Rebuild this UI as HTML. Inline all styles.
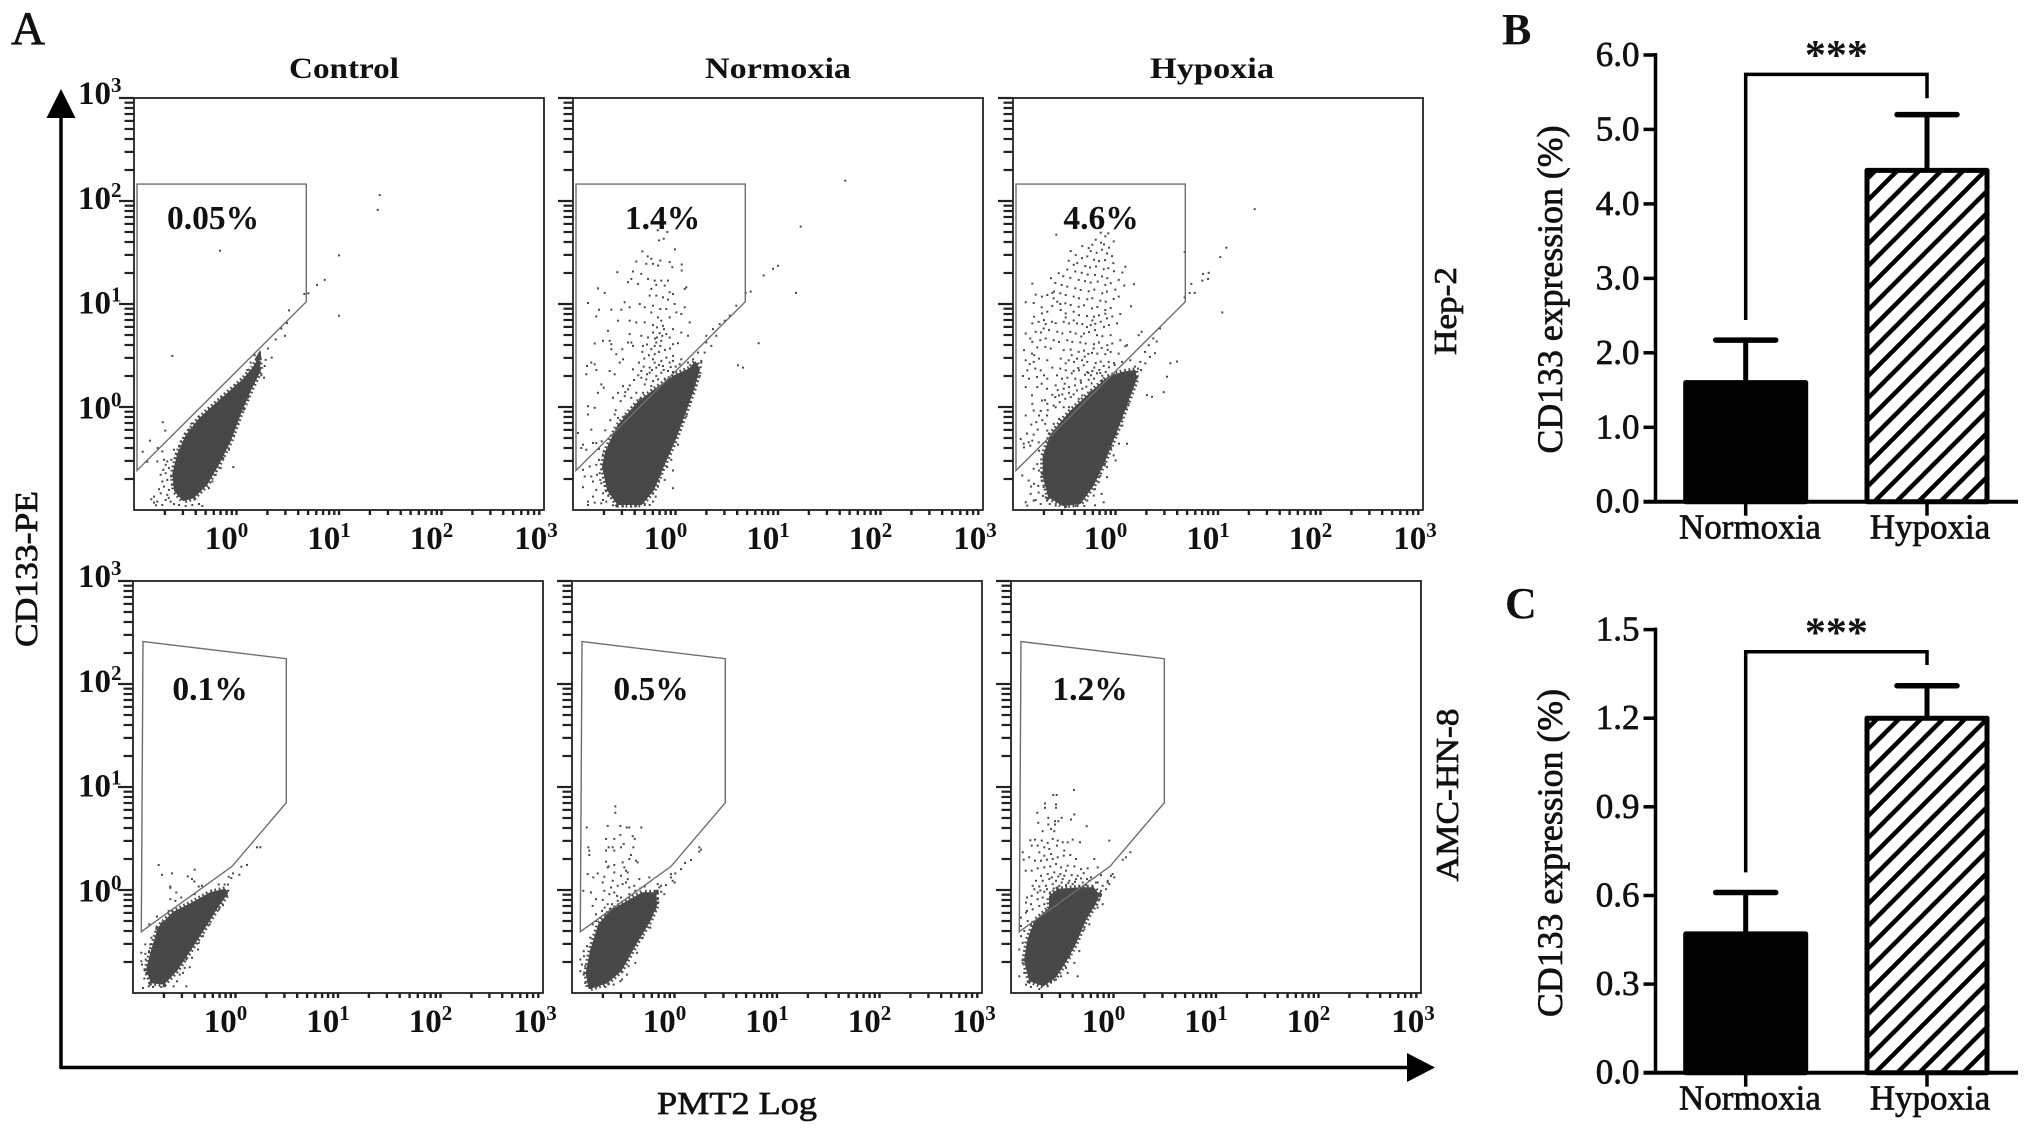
<!DOCTYPE html>
<html lang="en">
<head>
<meta charset="utf-8">
<title>CD133 flow cytometry and expression</title>
<style>
html,body{margin:0;padding:0;background:#fff;}
svg{display:block;}
text{font-family:"Liberation Serif",serif;font-weight:bold;fill:#111;}
.medium{font-weight:normal;stroke:#111;stroke-width:.7;}
</style>
</head>
<body>
<svg id="figure" xmlns="http://www.w3.org/2000/svg" width="2031" height="1135" viewBox="0 0 2031 1135">
<defs>
<pattern id="hatch" patternUnits="userSpaceOnUse" width="22" height="22">
<path d="M-5.5 5.5L5.5 -5.5M0 22L22 0M16.5 27.5L27.5 16.5" stroke="#000" stroke-width="4.5" fill="none"/>
</pattern>
</defs>
<rect x="0" y="0" width="2031" height="1135" fill="#fff"/>
<text class="medium" x="11" y="44" font-size="47">A</text>
<text x="1502" y="44" font-size="44">B</text>
<text x="1505" y="618" font-size="44">C</text>
<text x="344" y="78" font-size="30" text-anchor="middle" textLength="110" lengthAdjust="spacingAndGlyphs">Control</text>
<text x="778" y="78" font-size="30" text-anchor="middle" textLength="146" lengthAdjust="spacingAndGlyphs">Normoxia</text>
<text x="1212" y="78" font-size="30" text-anchor="middle" textLength="124" lengthAdjust="spacingAndGlyphs">Hypoxia</text>
<text class="medium" transform="translate(1456 311) rotate(-90)" font-size="32" text-anchor="middle" textLength="88" lengthAdjust="spacingAndGlyphs">Hep-2</text>
<text class="medium" transform="translate(1458 795) rotate(-90)" font-size="32" text-anchor="middle" textLength="173" lengthAdjust="spacingAndGlyphs">AMC-HN-8</text>
<text class="medium" transform="translate(37 569) rotate(-90)" font-size="32" text-anchor="middle" textLength="156" lengthAdjust="spacingAndGlyphs">CD133-PE</text>
<text class="medium" x="737" y="1114" font-size="32" text-anchor="middle" textLength="160" lengthAdjust="spacingAndGlyphs">PMT2 Log</text>
<line x1="61" y1="1069" x2="61" y2="116" stroke="#000" stroke-width="3.5"/>
<polygon points="61,89 46.5,118 75.5,118" fill="#000"/>
<line x1="60" y1="1067.5" x2="1410" y2="1067.5" stroke="#000" stroke-width="3.5"/>
<polygon points="1435,1067.5 1407,1053 1407,1082" fill="#000"/>
<g id="flow-layer"></g>
<g id="bars-layer"></g>
</svg>
<script>
/* Flow cytometry data: channel units, 0-1230 spans four decades (10^-1 to 10^3) */
const channelMax = 1230;
const decadeExponents = [0, 1, 2, 3];
const minorMultipliers = [1, 2, 3, 4, 5, 6, 7, 8, 9];
const gateHep2 = [[9,973],[517,973],[517,622],[9,118]];
const gateAmc = [[25,183],[297,378],[460,568],[460,998],[30,1049]];

const cloudControlHep2 = [[373,448],[358,423],[328,388],[288,353],[248,318],[198,273],[158,223],[133,168],[118,108],[123,58],[148,30],[178,38],[218,78],[253,138],[288,208],[318,288],[348,358],[378,418]];
const cloudNormoxiaHep2 = [[367,440],[350,420],[305,400],[255,365],[195,320],[135,250],[100,175],[90,130],[105,60],[135,18],[205,18],[240,60],[265,120],[305,210],[335,290],[360,360],[378,420]];
const cloudHypoxiaHep2 = [[365,415],[330,410],[285,395],[235,350],[175,295],[115,225],[92,160],[92,100],[108,40],[150,15],[200,20],[240,75],[275,150],[315,250],[345,330],[368,390]];
const cloudControlAmc = [[276,308],[232,298],[182,270],[122,240],[78,195],[58,130],[42,70],[56,32],[92,28],[130,68],[172,130],[217,200],[256,262],[282,298]];
const cloudNormoxiaAmc = [[250,298],[212,298],[162,270],[118,245],[82,205],[58,130],[44,60],[52,15],[105,32],[146,68],[192,150],[232,215],[252,262]];
const cloudHypoxiaAmc = [[262,293],[247,313],[212,313],[142,308],[117,288],[117,253],[72,213],[52,158],[42,98],[57,38],[97,23],[132,48],[162,93],[192,148],[222,218],[252,268]];

const eventsControlHep2 = [[737,940],[731,896],[615,760],[572,687],[549,672],[523,647],[511,645],[615,580],[465,596],[459,558],[442,542],[453,520],[425,509],[402,482],[413,455],[390,395],[258,774],[115,460],[86,262],[94,237],[48,207],[26,174],[71,185],[40,144],[298,128],[60,40],[70,25],[85,15],[95,30],[80,50],[100,45],[110,25],[120,18],[135,15],[155,12],[175,15],[195,18],[205,12],[75,62],[90,70],[105,60],[115,75],[85,85],[100,90],[112,100],[95,110],[88,120],[105,125],[118,130],[100,145],[112,150],[122,155],[90,150],[80,105],[130,165],[135,190],[150,215],[120,180],[140,205],[165,240],[85,175],[70,145],[95,135],[225,65],[235,85],[245,105],[260,125],[268,155],[285,180],[300,222],[312,258],[330,300],[342,336],[360,380],[382,402],[392,430],[395,448],[378,470],[362,462],[350,440],[340,418],[305,372],[262,336],[225,300],[195,278],[172,258],[60,22],[52,32],[66,14],[138,176],[104,36]];
const eventsNormoxiaHep2 = [[817,983],[683,846],[615,729],[600,720],[572,700],[533,652],[518,648],[669,648],[557,498],[495,432],[510,425],[490,610],[455,565],[440,555],[420,540],[400,500],[415,490],[395,470],[375,470],[360,450],[385,445],[345,440],[400,520],[430,520],[470,580],[254,835],[272,810],[258,805],[283,830],[306,778],[208,772],[224,757],[235,750],[190,742],[262,745],[220,735],[240,735],[255,730],[290,740],[326,733],[298,725],[326,715],[133,710],[180,712],[205,705],[225,690],[265,685],[285,685],[245,685],[175,690],[165,680],[195,675],[250,672],[275,670],[235,660],[340,665],[335,660],[290,650],[300,645],[230,640],[250,640],[270,635],[285,628],[75,662],[95,648],[45,618],[78,598],[115,598],[145,598],[155,620],[170,605],[200,615],[215,605],[240,610],[262,600],[280,600],[305,615],[335,605],[235,590],[255,575],[265,565],[290,575],[310,590],[325,585],[70,578],[135,565],[170,565],[190,560],[215,560],[240,552],[270,550],[300,540],[350,560],[240,530],[260,528],[280,525],[325,530],[205,520],[225,515],[250,500],[265,505],[262,490],[290,515],[105,535],[65,497],[90,505],[110,505],[115,495],[170,525],[165,500],[180,490],[175,500],[210,490],[235,480],[245,490],[300,495],[315,498],[345,520],[148,480],[115,480],[130,465],[150,450],[140,440],[245,465],[240,450],[245,440],[265,445],[280,455],[300,460],[325,450],[230,425],[250,425],[270,430],[290,440],[300,445],[320,435],[55,440],[42,430],[65,435],[70,418],[40,405],[110,415],[125,405],[180,420],[205,415],[230,410],[250,400],[265,410],[285,415],[300,412],[205,395],[220,390],[240,385],[255,390],[275,392],[215,375],[235,370],[255,365],[85,375],[92,365],[150,370],[165,360],[190,350],[210,350],[230,345],[75,350],[135,350],[120,335],[155,340],[175,335],[200,330],[45,310],[65,305],[45,285],[125,285],[135,275],[155,280],[15,230],[55,240],[30,195],[60,200],[70,200],[25,185],[40,180],[90,165],[30,120],[50,130],[70,135],[35,100],[55,100],[80,110],[60,85],[85,80],[30,68],[70,60],[90,50],[60,40],[90,30],[45,25],[65,22],[85,20],[100,25],[45,15],[240,25],[230,15],[270,120],[300,118],[300,65],[255,70],[275,90],[262,105],[290,170],[320,240],[340,280],[360,350],[385,440],[375,420],[365,395],[380,400],[95,140],[100,100],[78,150],[240,50],[215,15],[190,12],[270,140],[285,190],[310,225],[335,300],[222,405],[237,418],[258,433],[272,418],[293,427],[308,428],[212,428],[196,402],[183,388],[170,372],[157,352],[143,325],[128,298],[112,268],[97,238],[86,205],[78,182],[198,440],[214,452],[228,462],[258,472],[276,478],[291,482],[208,472],[222,494],[252,515],[273,540],[252,545],[246,512],[268,520],[82,90],[72,105],[88,122],[95,72],[106,42],[120,14],[150,11],[175,10],[248,40],[257,88],[283,128],[295,150],[315,195],[328,262],[352,322],[370,372]];
const eventsHypoxiaHep2 = [[725,898],[640,783],[622,755],[587,708],[570,705],[585,690],[568,685],[628,590],[535,675],[515,635],[545,648],[530,648],[515,770],[130,822],[257,843],[263,828],[277,817],[286,826],[248,807],[264,798],[273,793],[302,802],[288,783],[238,792],[233,773],[227,782],[208,788],[251,768],[267,777],[282,766],[297,758],[188,761],[207,752],[223,757],[243,747],[258,743],[276,746],[301,737],[173,773],[167,744],[182,732],[193,737],[217,728],[231,724],[249,727],[272,719],[286,722],[303,713],[163,718],[187,712],[206,708],[224,703],[246,702],[267,697],[283,692],[337,726],[328,709],[151,698],[172,693],[197,687],[216,683],[233,679],[254,682],[277,672],[293,677],[317,687],[137,707],[114,692],[127,678],[146,672],[163,667],[187,662],[203,657],[227,653],[244,658],[268,647],[282,652],[307,658],[334,670],[363,674],[58,676],[123,652],[142,647],[158,642],[182,637],[198,632],[223,629],[238,632],[262,625],[278,622],[302,630],[68,643],[87,637],[103,642],[122,632],[133,622],[157,617],[173,612],[197,607],[213,611],[237,602],[253,606],[277,597],[293,603],[317,637],[354,608],[38,620],[62,618],[118,609],[143,597],[158,587],[182,592],[198,582],[222,579],[243,577],[258,581],[282,572],[298,578],[322,585],[63,577],[87,587],[103,592],[58,557],[77,562],[93,567],[117,562],[128,558],[152,562],[168,557],[192,557],[208,555],[233,552],[247,556],[273,547],[288,552],[312,557],[38,527],[52,512],[68,532],[92,542],[108,537],[133,532],[148,527],[172,532],[188,527],[213,527],[228,531],[252,522],[268,519],[293,522],[322,507],[377,522],[58,502],[82,507],[98,512],[122,507],[138,502],[163,507],[178,502],[202,500],[218,497],[243,495],[258,500],[283,492],[298,497],[342,492],[33,477],[57,467],[73,485],[97,487],[113,482],[152,477],[173,479],[197,472],[213,476],[237,469],[253,467],[277,465],[293,472],[317,467],[38,447],[62,442],[78,452],[103,447],[143,452],[167,447],[183,442],[207,447],[223,442],[248,439],[263,443],[287,442],[303,439],[327,442],[43,417],[67,422],[83,417],[142,422],[158,417],[182,415],[198,417],[223,412],[238,415],[262,409],[278,412],[302,407],[337,489],[48,392],[72,397],[93,402],[147,392],[163,395],[187,392],[203,387],[227,389],[243,392],[267,387],[283,382],[307,399],[38,367],[57,342],[73,367],[102,362],[128,372],[152,362],[168,367],[192,357],[208,362],[232,352],[248,357],[272,367],[58,317],[87,327],[103,317],[127,337],[138,342],[157,332],[173,337],[197,332],[208,342],[227,322],[38,282],[62,297],[78,282],[102,282],[128,307],[152,307],[168,307],[23,212],[47,202],[58,207],[77,202],[33,187],[52,192],[78,177],[97,257],[103,237],[122,257],[138,272],[162,282],[375,422],[396,472],[407,492],[421,512],[431,503],[382,442],[366,428],[397,438],[411,457],[426,468],[441,542],[386,532],[352,447],[28,103],[47,88],[62,123],[73,137],[87,108],[63,78],[92,68],[53,48],[77,52],[38,23],[62,28],[83,18],[102,28],[43,13],[257,83],[266,48],[282,98],[287,188],[302,163],[342,198],[328,252],[347,318],[242,43],[223,28],[272,23],[282,128],[258,118],[92,143],[98,38],[402,343],[417,338],[452,352],[462,398],[472,438],[492,443],[244,425],[259,418],[272,430],[288,426],[305,433],[212,432],[226,409],[196,424],[176,408],[155,377],[134,358],[118,344],[96,328],[83,296],[70,262],[55,255],[42,228],[32,198],[216,404],[234,402],[252,408],[268,401],[292,398],[186,372],[204,380],[220,368],[236,378],[148,345],[168,350],[182,345],[122,312],[140,322],[104,298],[88,268],[74,240],[62,225],[226,466],[242,482],[266,484],[284,478],[215,458],[192,452],[176,462],[158,438],[132,402],[118,425],[103,392],[86,377],[246,537],[263,562],[277,586],[238,566],[222,546],[205,518],[182,566],[158,575],[142,615],[118,648],[86,605],[98,555],[84,530],[64,462],[50,436],[30,400],[76,72],[86,88],[78,118],[90,42],[68,30],[54,70],[110,18],[128,13],[160,10],[188,12],[214,12],[246,62],[262,102],[276,138],[294,186],[310,225],[326,272],[340,306],[356,358],[372,395],[384,418],[246,14],[318,198],[308,148]];
const eventsControlAmc = [[77,382],[87,353],[117,357],[185,368],[164,348],[177,340],[184,333],[112,318],[112,314],[130,300],[112,280],[127,275],[145,285],[107,245],[72,228],[197,318],[207,320],[185,295],[287,347],[295,343],[300,357],[319,353],[325,377],[342,382],[372,435],[382,435],[257,324],[275,324],[285,324],[277,300],[282,290],[25,120],[37,117],[37,145],[52,145],[25,95],[27,85],[34,43],[30,15],[47,20],[67,30],[122,20],[160,20],[132,35],[170,77],[177,105],[197,150],[87,210],[49,205],[44,75],[55,165],[70,190],[250,280],[262,270],[230,205],[150,60],[110,48],[95,22],[85,18],[60,18],[40,60],[38,100],[48,125],[140,55],[155,75],[160,100],[195,130],[210,170],[235,228],[258,250],[270,262],[285,305]];
const eventsNormoxiaAmc = [[130,557],[130,538],[44,494],[107,499],[145,499],[164,494],[172,494],[208,494],[145,472],[182,468],[188,460],[102,460],[127,460],[155,445],[49,435],[52,425],[52,412],[110,435],[122,435],[102,425],[127,425],[147,435],[184,435],[177,412],[102,392],[172,400],[192,395],[197,390],[107,375],[110,378],[127,382],[152,390],[157,375],[162,365],[127,360],[47,355],[64,345],[77,357],[97,347],[147,350],[167,360],[92,330],[122,335],[167,340],[162,330],[202,340],[232,345],[117,315],[137,320],[152,325],[172,315],[187,320],[34,305],[57,300],[97,305],[112,295],[127,300],[147,285],[172,295],[72,280],[92,278],[107,265],[62,260],[137,275],[297,355],[310,357],[297,345],[302,335],[308,330],[327,370],[339,388],[357,397],[382,435],[387,428],[382,422],[257,325],[267,320],[282,322],[262,315],[277,295],[257,280],[250,250],[90,245],[100,235],[85,225],[72,215],[62,205],[25,100],[35,125],[45,140],[55,165],[25,65],[35,55],[40,30],[55,15],[75,20],[100,18],[125,25],[145,35],[165,55],[170,80],[190,90],[195,120],[212,165],[235,195],[30,85],[150,40],[40,80],[36,110],[48,40],[158,102],[172,118],[205,185],[222,205],[240,232],[258,268],[268,302],[190,305],[205,312],[218,318],[135,290],[120,265],[98,255],[72,235]];
const eventsHypoxiaAmc = [[189,606],[127,591],[137,591],[102,566],[135,563],[135,553],[102,553],[79,538],[190,533],[152,523],[142,513],[132,513],[112,523],[82,508],[112,503],[227,498],[132,503],[180,518],[120,490],[95,483],[130,483],[58,456],[72,458],[92,455],[110,448],[125,460],[140,455],[155,450],[170,450],[185,458],[207,450],[295,455],[62,440],[80,440],[100,435],[115,430],[138,440],[160,425],[120,415],[100,410],[85,420],[35,420],[38,398],[55,405],[72,395],[90,395],[108,398],[125,400],[140,405],[158,410],[178,412],[195,400],[250,400],[335,398],[345,405],[358,420],[80,372],[62,365],[44,365],[100,375],[118,378],[135,385],[150,375],[170,380],[190,378],[210,370],[230,372],[260,375],[90,350],[110,355],[130,360],[148,355],[165,365],[182,352],[200,350],[218,358],[240,345],[270,352],[300,350],[310,345],[75,335],[95,335],[115,340],[135,335],[155,340],[175,335],[195,340],[215,330],[235,335],[255,330],[290,335],[305,355],[65,320],[85,318],[105,320],[125,325],[145,320],[165,322],[185,325],[205,320],[225,322],[245,318],[275,320],[295,325],[285,310],[270,305],[260,330],[48,285],[62,290],[80,300],[100,302],[118,300],[45,270],[60,265],[80,280],[95,285],[48,245],[65,250],[85,260],[100,265],[30,225],[45,240],[30,200],[50,215],[60,205],[30,170],[40,185],[25,130],[35,150],[35,90],[40,60],[25,50],[45,25],[60,18],[85,12],[110,20],[120,35],[135,40],[150,50],[170,60],[190,90],[200,50],[165,75],[175,110],[205,125],[220,190],[235,205],[260,255],[265,280],[275,265],[290,330],[128,312],[152,330],[172,328],[192,332],[210,342],[228,340],[88,306],[108,310],[70,310],[122,345],[142,348],[160,350]];

/* Flow panel labels */
const gateLabels = ['0.05%','1.4%','4.6%','0.1%','0.5%','1.2%'];
const panelCondition = ['control-hep2','normoxia-hep2','hypoxia-hep2','control-amc','normoxia-amc','hypoxia-amc'];
const panelClouds = [cloudControlHep2,cloudNormoxiaHep2,cloudHypoxiaHep2,cloudControlAmc,cloudNormoxiaAmc,cloudHypoxiaAmc];
const panelEvents = [eventsControlHep2,eventsNormoxiaHep2,eventsHypoxiaHep2,eventsControlAmc,eventsNormoxiaAmc,eventsHypoxiaAmc];
const panelGates = [gateHep2,gateHep2,gateHep2,gateAmc,gateAmc,gateAmc];

/* Bar chart data */
const barCategories = ['Normoxia','Hypoxia'];
const bTickValues = [0,1,2,3,4,5,6];
const bMeans = [1.6,4.45];
const bUpper = [2.17,5.2];
const bBracket = [5.74,2.44,5.42];
const cTickValues = [0,0.3,0.6,0.9,1.2,1.5];
const cMeans = [0.47,1.2];
const cUpper = [0.61,1.31];
const cBracket = [1.425,0.678,1.38];

const NS = 'http://www.w3.org/2000/svg';
function mk(tag, attrs, parent) {
  const e = document.createElementNS(NS, tag);
  for (const k in attrs) e.setAttribute(k, attrs[k]);
  parent.appendChild(e);
  return e;
}
const flowLayer = document.getElementById('flow-layer');
const barsLayer = document.getElementById('bars-layer');
const PW = 410, PH = 412;
const colX = [[134,573,1013],[133,572,1011]];
const rowY = [98,581];
const pctOffset = [79,89.5,88,77,79,79];

panelCondition.forEach(function (name, idx) {
  const row = idx < 3 ? 0 : 1;
  const col = idx % 3;
  const L = colX[row][col], T = rowY[row];
  const sx = function (ch) { return L + ch / channelMax * PW; };
  const sy = function (ch) { return T + PH - ch / channelMax * PH; };
  const decadeCh = channelMax / 4;
  const g = mk('g', {}, flowLayer);
  
  
  const cloudPts = panelClouds[idx].map(function (p) { return sx(p[0]).toFixed(1) + ',' + sy(p[1]).toFixed(1); }).join(' ');

  const cloud = mk('polygon', {points: cloudPts, fill: '#474747', stroke: '#474747', 'stroke-width': 2, 'stroke-linejoin': 'round'}, g);
  
  

  const fringe = mk('polygon', {points: cloudPts, fill: 'none', stroke: '#4a4a4a', 'stroke-width': 7, 'stroke-dasharray': '1.7 2.6'}, g);
  
  

  panelEvents[idx].forEach(function (p) {
    const dot = mk('rect', {x: (sx(p[0]) - 1).toFixed(1), y: (sy(p[1]) - 1).toFixed(1), width: 2, height: 2, fill: '#4a4a4a'}, g);
    
    
  });

  const gate = mk('polygon', {points: panelGates[idx].map(function (p) { return sx(p[0]).toFixed(1) + ',' + sy(p[1]).toFixed(1); }).join(' '), fill: 'none', stroke: '#6e6e6e', 'stroke-width': 1.4}, g);
  
  

  const frame = mk('rect', {x: L, y: T, width: PW, height: PH, fill: 'none', stroke: '#222', 'stroke-width': 1.8}, g);
  
  

  [-1, 0, 1, 2].forEach(function (dec) {
    minorMultipliers.forEach(function (m) {
      const ch = (dec + 1 + Math.log10(m)) * decadeCh;
      const isMajor = m === 1;
      if (!(isMajor && dec === -1)) {
        const ty = mk('line', {x1: L - (isMajor ? 15 : 9.5), x2: L, y1: sy(ch).toFixed(1), y2: sy(ch).toFixed(1), stroke: '#222', 'stroke-width': 2.2}, g);
        
        
        const tx = mk('line', {x1: sx(ch).toFixed(1), x2: sx(ch).toFixed(1), y1: T + PH, y2: T + PH + 5, stroke: '#222', 'stroke-width': 2.4}, g);
        
        
      }
    });
  });
  const topTick = mk('line', {x1: L - 15, x2: L, y1: sy(channelMax), y2: sy(channelMax), stroke: '#222', 'stroke-width': 2.2}, g);
  
  

  decadeExponents.forEach(function (ex) {
    const ch = (ex + 1) * decadeCh;
    const lab = mk('text', {x: (sx(ch) - (ex === 3 ? 8 : 10)).toFixed(1), y: T + PH + 39, 'font-size': 33, 'text-anchor': 'middle'}, g);
    
    
    lab.appendChild(document.createTextNode('10'));
    const sup = mk('tspan', {dy: -12, 'font-size': 21}, lab);
    sup.textContent = String(ex);
    if (col === 0) {
      const ylab = mk('text', {x: 78, y: (sy(ch) + 6 + (3 - ex) * 1.8).toFixed(1), 'font-size': 33}, g);
      
      
      ylab.appendChild(document.createTextNode('10'));
      const ysup = mk('tspan', {dy: -12, 'font-size': 21}, ylab);
      ysup.textContent = String(ex);
    }
  });

  const pct = mk('text', {x: L + pctOffset[idx], y: row === 0 ? 229 : 700, 'font-size': 33.5, 'text-anchor': 'middle'}, g);
  
  
  pct.textContent = gateLabels[idx];
});

function drawBars(cfg) {
  const g = mk('g', {}, barsLayer);
  
  
  const ax = 1655.5, xEnd = 2018;
  const y = function (v) { return cfg.y0 - v / cfg.max * (cfg.y0 - cfg.yTop); };
  const cx = function (i) { return 1745.7 + i * 181.3; };
  const labelX = [1750, 1930];
  const halfBar = 60, capHalf = 30;

  cfg.means.forEach(function (m, i) {
    const bar = mk('rect', {x: cx(i) - halfBar, y: y(m).toFixed(1), width: halfBar * 2, height: (cfg.y0 - y(m)).toFixed(1), fill: i === 0 ? '#000' : 'url(#hatch)', stroke: '#000', 'stroke-width': 5, 'stroke-linejoin': 'round'}, g);
    
    
    const stem = mk('line', {x1: cx(i), x2: cx(i), y1: y(m).toFixed(1), y2: y(cfg.upper[i]).toFixed(1), stroke: '#000', 'stroke-width': 5}, g);
    
    
    const cap = mk('line', {x1: cx(i) - capHalf, x2: cx(i) + capHalf, y1: y(cfg.upper[i]).toFixed(1), y2: y(cfg.upper[i]).toFixed(1), stroke: '#000', 'stroke-width': 5.5, 'stroke-linecap': 'round'}, g);
    
    
    const tick = mk('line', {x1: cx(i), x2: cx(i), y1: cfg.y0, y2: cfg.y0 + 14, stroke: '#000', 'stroke-width': 3.5}, g);
    
    
    const lab = mk('text', {x: labelX[i], y: cfg.y0 + 37, 'font-size': 35, 'text-anchor': 'middle', class: 'medium'}, g);
    
    
    lab.textContent = barCategories[i];
  });

  const yAxis = mk('line', {x1: ax, x2: ax, y1: y(cfg.max) - 2, y2: cfg.y0, stroke: '#000', 'stroke-width': 3.5}, g);
  
  
  const xAxis = mk('line', {x1: ax - 12, x2: xEnd, y1: cfg.y0, y2: cfg.y0, stroke: '#000', 'stroke-width': 4}, g);
  
  

  cfg.ticks.forEach(function (t) {
    const tk = mk('line', {x1: ax - 12, x2: ax, y1: y(t).toFixed(1), y2: y(t).toFixed(1), stroke: '#000', 'stroke-width': 3.5}, g);
    
    
    const lb = mk('text', {x: ax - 16, y: (y(t) + 11).toFixed(1), 'font-size': 35, 'text-anchor': 'end', class: 'medium'}, g);
    
    
    lb.textContent = t.toFixed(1);
  });

  const br = mk('polyline', {points: [cx(0), y(cfg.bracket[1]).toFixed(1), cx(0), y(cfg.bracket[0]).toFixed(1), cx(1), y(cfg.bracket[0]).toFixed(1), cx(1), y(cfg.bracket[2]).toFixed(1)].join(' '), fill: 'none', stroke: '#000', 'stroke-width': 3.5}, g);
  
  
  const stars = mk('text', {x: (cx(0) + cx(1)) / 2, y: y(cfg.bracket[0]) - 5.5, 'font-size': 42, 'text-anchor': 'middle'}, g);
  
  
  stars.textContent = '***';

  const title = mk('text', {transform: 'translate(1562 ' + cfg.titleY + ') rotate(-90)', 'font-size': 36, 'text-anchor': 'middle', textLength: 328, lengthAdjust: 'spacingAndGlyphs', class: 'medium'}, g);
  
  
  title.textContent = 'CD133 expression (%)';
}

drawBars({name: 'bar-chart-b', y0: 501.7, yTop: 55, max: 6, ticks: bTickValues, means: bMeans, upper: bUpper, bracket: bBracket, titleY: 289.5});
drawBars({name: 'bar-chart-c', y0: 1072.7, yTop: 629.6, max: 1.5, ticks: cTickValues, means: cMeans, upper: cUpper, bracket: cBracket, titleY: 853});
</script>
</body>
</html>
